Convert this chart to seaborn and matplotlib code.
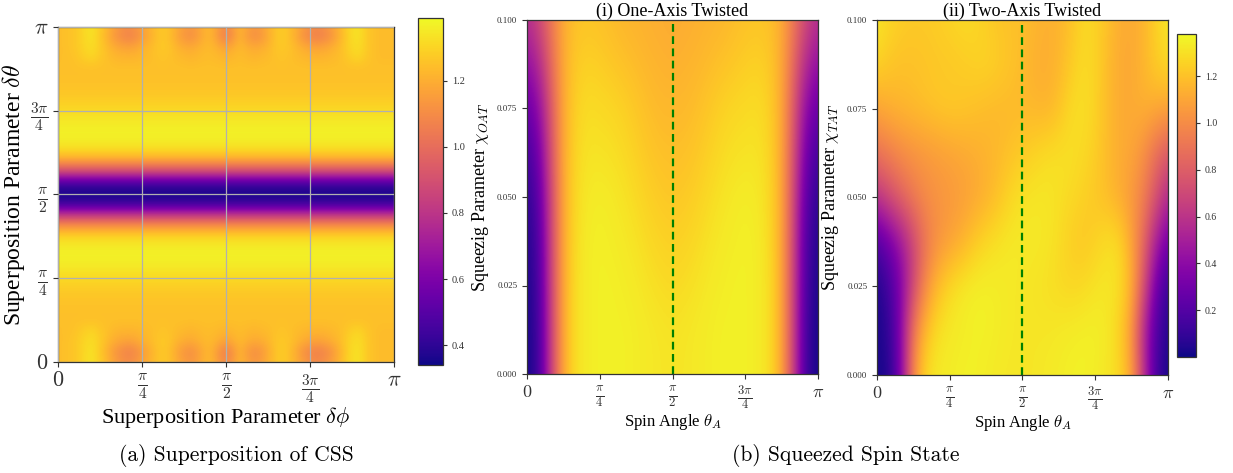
import numpy as np
import matplotlib
matplotlib.use("Agg")
import matplotlib.pyplot as plt
from matplotlib.colors import Normalize
import seaborn as sns

# ---------------- data ----------------
# Panel (a): superposition of CSS; rows = delta theta (k*pi/32), cols = delta phi (j*pi/48)
css_theta_profile = [1.24, 1.24, 1.24, 1.24, 1.25, 1.25, 1.26, 1.28, 1.31, 1.35, 1.37, 1.36, 1.30,
                     1.12, 0.82, 0.45, 0.34, 0.45, 0.82, 1.12, 1.30, 1.36, 1.37, 1.35, 1.31, 1.28,
                     1.26, 1.25, 1.25, 1.24, 1.24, 1.24, 1.24]
css_edge_row0 = [1.24, 1.25, 1.26, 1.28, 1.32, 1.33, 1.28, 1.23, 1.17, 1.13, 1.11, 1.13, 1.17, 1.21, 1.25,
                 1.27, 1.25, 1.20, 1.16, 1.14, 1.17, 1.22, 1.22, 1.15, 1.10, 1.15, 1.22, 1.18, 1.14, 1.16,
                 1.21, 1.25, 1.28, 1.25, 1.21, 1.16, 1.12, 1.10, 1.12, 1.16, 1.21, 1.27, 1.32, 1.33, 1.28,
                 1.25, 1.24, 1.24, 1.24]
css_edge_row1 = [1.24, 1.25, 1.26, 1.28, 1.32, 1.33, 1.27, 1.21, 1.14, 1.10, 1.07, 1.09, 1.14, 1.19, 1.24,
                 1.27, 1.24, 1.18, 1.13, 1.11, 1.15, 1.21, 1.21, 1.12, 1.06, 1.12, 1.21, 1.15, 1.11, 1.13,
                 1.19, 1.25, 1.28, 1.25, 1.19, 1.12, 1.08, 1.06, 1.08, 1.12, 1.19, 1.26, 1.32, 1.33, 1.28,
                 1.25, 1.24, 1.24, 1.24]
css_edge_row2 = [1.24, 1.25, 1.26, 1.28, 1.31, 1.32, 1.28, 1.24, 1.20, 1.18, 1.17, 1.18, 1.21, 1.23, 1.26,
                 1.27, 1.26, 1.22, 1.20, 1.19, 1.21, 1.23, 1.23, 1.20, 1.17, 1.20, 1.23, 1.21, 1.19, 1.20,
                 1.22, 1.26, 1.27, 1.26, 1.23, 1.20, 1.18, 1.17, 1.18, 1.20, 1.23, 1.27, 1.31, 1.32, 1.28,
                 1.25, 1.24, 1.24, 1.24]
css_edge_row3 = [1.24, 1.25, 1.25, 1.27, 1.29, 1.30, 1.27, 1.25, 1.23, 1.22, 1.22, 1.22, 1.23, 1.24, 1.25,
                 1.26, 1.25, 1.24, 1.23, 1.22, 1.23, 1.24, 1.24, 1.23, 1.22, 1.23, 1.24, 1.23, 1.22, 1.23,
                 1.24, 1.25, 1.26, 1.25, 1.24, 1.23, 1.22, 1.22, 1.22, 1.23, 1.24, 1.26, 1.29, 1.30, 1.27,
                 1.25, 1.24, 1.24, 1.24]
css_range = (0.34, 1.39)
css_cbar_ticks = [0.4, 0.6, 0.8, 1.0, 1.2]

# Panel (b)(i): one-axis twisted; rows = chi (0 .. 0.1 step 0.0125), cols = theta_A (j*pi/24)
oat_rows = [
    [0.02, 0.12, 0.65, 1.12, 1.30, 1.34, 1.35, 1.35, 1.35, 1.34, 1.33, 1.32, 1.32, 1.32, 1.33, 1.34, 1.35, 1.35, 1.35, 1.34, 1.30, 1.12, 0.65, 0.12, 0.02],
    [0.02, 0.13, 0.66, 1.12, 1.30, 1.34, 1.35, 1.35, 1.35, 1.34, 1.33, 1.32, 1.31, 1.32, 1.33, 1.34, 1.35, 1.35, 1.35, 1.34, 1.30, 1.12, 0.66, 0.13, 0.02],
    [0.03, 0.15, 0.67, 1.12, 1.30, 1.34, 1.35, 1.35, 1.34, 1.33, 1.31, 1.29, 1.28, 1.29, 1.31, 1.33, 1.34, 1.35, 1.35, 1.34, 1.30, 1.12, 0.67, 0.15, 0.03],
    [0.05, 0.17, 0.68, 1.12, 1.29, 1.34, 1.35, 1.34, 1.33, 1.31, 1.28, 1.26, 1.25, 1.26, 1.28, 1.31, 1.33, 1.34, 1.35, 1.34, 1.29, 1.12, 0.68, 0.17, 0.05],
    [0.08, 0.22, 0.70, 1.12, 1.28, 1.33, 1.34, 1.33, 1.31, 1.28, 1.25, 1.23, 1.22, 1.23, 1.25, 1.28, 1.31, 1.33, 1.34, 1.33, 1.28, 1.12, 0.70, 0.22, 0.08],
    [0.15, 0.30, 0.74, 1.12, 1.27, 1.31, 1.31, 1.30, 1.28, 1.25, 1.22, 1.20, 1.19, 1.20, 1.22, 1.25, 1.28, 1.30, 1.31, 1.31, 1.27, 1.12, 0.74, 0.30, 0.15],
    [0.27, 0.40, 0.78, 1.12, 1.25, 1.29, 1.28, 1.27, 1.25, 1.22, 1.19, 1.17, 1.17, 1.17, 1.19, 1.22, 1.25, 1.27, 1.28, 1.29, 1.25, 1.12, 0.78, 0.40, 0.27],
    [0.42, 0.55, 0.85, 1.12, 1.23, 1.25, 1.24, 1.22, 1.20, 1.18, 1.16, 1.15, 1.14, 1.15, 1.16, 1.18, 1.20, 1.22, 1.24, 1.25, 1.23, 1.12, 0.85, 0.55, 0.42],
    [0.58, 0.70, 0.92, 1.12, 1.20, 1.21, 1.20, 1.18, 1.16, 1.15, 1.14, 1.13, 1.12, 1.13, 1.14, 1.15, 1.16, 1.18, 1.20, 1.21, 1.20, 1.12, 0.92, 0.70, 0.58],
]

# Panel (b)(ii): two-axis twisted; same grid
tat_rows = [
    [0.02, 0.04, 0.35, 1.00, 1.28, 1.33, 1.34, 1.35, 1.35, 1.34, 1.33, 1.32, 1.32, 1.32, 1.33, 1.34, 1.35, 1.35, 1.34, 1.32, 1.28, 1.10, 0.60, 0.15, 0.02],
    [0.03, 0.08, 0.38, 0.92, 1.18, 1.30, 1.33, 1.34, 1.35, 1.35, 1.34, 1.33, 1.32, 1.32, 1.32, 1.33, 1.34, 1.35, 1.35, 1.33, 1.25, 1.05, 0.55, 0.18, 0.05],
    [0.03, 0.14, 0.36, 0.70, 1.00, 1.18, 1.28, 1.33, 1.35, 1.35, 1.34, 1.33, 1.32, 1.31, 1.30, 1.28, 1.27, 1.28, 1.31, 1.32, 1.30, 1.15, 0.75, 0.30, 0.10],
    [0.18, 0.30, 0.46, 0.68, 0.90, 1.02, 1.08, 1.14, 1.22, 1.28, 1.31, 1.33, 1.33, 1.33, 1.32, 1.29, 1.24, 1.22, 1.25, 1.30, 1.28, 1.10, 0.85, 0.50, 0.30],
    [0.60, 0.72, 0.83, 0.93, 1.00, 1.03, 1.05, 1.07, 1.10, 1.14, 1.20, 1.27, 1.31, 1.32, 1.32, 1.30, 1.28, 1.25, 1.22, 1.18, 1.12, 1.05, 0.95, 0.75, 0.55],
    [0.90, 0.95, 1.00, 1.03, 1.05, 1.07, 1.09, 1.11, 1.13, 1.15, 1.17, 1.20, 1.23, 1.26, 1.29, 1.30, 1.30, 1.28, 1.24, 1.18, 1.13, 1.10, 1.02, 0.88, 0.78],
    [1.10, 1.14, 1.16, 1.18, 1.20, 1.22, 1.23, 1.22, 1.20, 1.18, 1.17, 1.17, 1.17, 1.16, 1.15, 1.20, 1.28, 1.30, 1.26, 1.18, 1.12, 1.12, 1.14, 1.12, 1.10],
    [1.26, 1.22, 1.20, 1.20, 1.21, 1.22, 1.22, 1.23, 1.25, 1.26, 1.24, 1.21, 1.18, 1.14, 1.13, 1.16, 1.23, 1.28, 1.26, 1.18, 1.12, 1.11, 1.16, 1.24, 1.28],
    [1.32, 1.27, 1.24, 1.23, 1.23, 1.24, 1.26, 1.28, 1.27, 1.24, 1.21, 1.20, 1.19, 1.16, 1.14, 1.15, 1.20, 1.27, 1.26, 1.20, 1.13, 1.12, 1.15, 1.25, 1.32],
]
chi_max = 0.1
ss_range = (0.0, 1.38)
ss_cbar_ticks = [0.2, 0.4, 0.6, 0.8, 1.0, 1.2]

pi_tick_values = [0, np.pi / 4, np.pi / 2, 3 * np.pi / 4, np.pi]
pi_tick_labels = [r"$0$", r"$\frac{\pi}{4}$", r"$\frac{\pi}{2}$", r"$\frac{3\pi}{4}$", r"$\pi$"]
chi_tick_values = [0.0, 0.025, 0.05, 0.075, 0.1]
chi_tick_labels = ["0.000", "0.025", "0.050", "0.075", "0.100"]

# ---------------- build tables ----------------
edge_rows = [css_edge_row0, css_edge_row1, css_edge_row2, css_edge_row3]
n_phi = len(css_edge_row0)
n_theta = len(css_theta_profile)
css_grid = np.array([[v] * n_phi for v in css_theta_profile], dtype=float)
for k, row in enumerate(edge_rows):
    css_grid[k] = row
    css_grid[n_theta - 1 - k] = row
oat_grid = np.array(oat_rows, dtype=float)
tat_grid = np.array(tat_rows, dtype=float)

# ---------------- style ----------------
sns.set_theme(style="ticks")
plt.rcParams.update({
    "font.family": ["Liberation Serif", "DejaVu Serif"],
    "mathtext.fontset": "cm",
    "axes.edgecolor": "#333333",
    "axes.linewidth": 0.9,
    "xtick.color": "#333333",
    "ytick.color": "#333333",
    "xtick.major.size": 3.5,
    "ytick.major.size": 3.5,
    "xtick.major.width": 0.8,
    "ytick.major.width": 0.8,
    "text.color": "black",
    "axes.labelcolor": "black",
})
cmap = sns.color_palette("plasma", as_cmap=True)

W, H = 1233, 473
fig = plt.figure(figsize=(W / 100, H / 100), dpi=100)


def px_axes(x0, y0, x1, y1):
    return fig.add_axes([x0 / W, 1 - y1 / H, (x1 - x0) / W, (y1 - y0) / H])


def draw_field(ax, grid, xmax, ymax, norm):
    ny, nx = grid.shape
    dx = xmax / (nx - 1)
    dy = ymax / (ny - 1)
    im = ax.imshow(grid, origin="lower", cmap=cmap, norm=norm, aspect="auto",
                   interpolation="bicubic",
                   extent=[-dx / 2, xmax + dx / 2, -dy / 2, ymax + dy / 2])
    ax.set_xlim(0, xmax)
    ax.set_ylim(0, ymax)
    return im


# ---------------- panel (a) ----------------
ax_a = px_axes(58, 27, 394, 362)
norm_a = Normalize(*css_range)
im_a = draw_field(ax_a, css_grid, np.pi, np.pi, norm_a)
ax_a.set_xticks(pi_tick_values)
ax_a.set_xticklabels(pi_tick_labels, fontsize=16)
ax_a.set_yticks(pi_tick_values)
ax_a.set_yticklabels(pi_tick_labels, fontsize=16)
ax_a.grid(True, color="#b0b0b0", linewidth=0.9)
ax_a.set_axisbelow(False)
ax_a.set_xlabel(r"Superposition Parameter $\delta\phi$", fontsize=16, labelpad=0)
ax_a.set_ylabel(r"Superposition Parameter $\delta\theta$", fontsize=17, labelpad=2)

cax_a = px_axes(418, 18, 443, 365)
cb_a = fig.colorbar(im_a, cax=cax_a)
cb_a.set_ticks(css_cbar_ticks)
cb_a.ax.tick_params(labelsize=7.5, length=3)
cb_a.outline.set_linewidth(0.9)

# ---------------- panel (b) ----------------
norm_b = Normalize(*ss_range)
ax_i = px_axes(527, 20, 818, 374)
draw_field(ax_i, oat_grid, np.pi, chi_max, norm_b)
ax_ii = px_axes(877, 20, 1168, 375)
im_ii = draw_field(ax_ii, tat_grid, np.pi, chi_max, norm_b)

for ax, title, ylab in [(ax_i, "(i) One-Axis Twisted", r"Squeezig Parameter $\chi_{OAT}$"),
                        (ax_ii, "(ii) Two-Axis Twisted", r"Squeezig Parameter $\chi_{TAT}$")]:
    ax.axvline(np.pi / 2, color="green", linestyle=(0, (3.5, 2.0)), linewidth=1.6)
    ax.set_xticks(pi_tick_values)
    ax.set_xticklabels(pi_tick_labels, fontsize=13)
    ax.set_yticks(chi_tick_values)
    ax.set_yticklabels(chi_tick_labels, fontsize=6.5)
    ax.set_title(title, fontsize=13, pad=2)
    ax.set_xlabel(r"Spin Angle $\theta_A$", fontsize=12, labelpad=0)
    ax.set_ylabel(ylab, fontsize=13, labelpad=4)

cax_b = px_axes(1177, 34, 1196, 357)
cb_b = fig.colorbar(im_ii, cax=cax_b)
cb_b.set_ticks(ss_cbar_ticks)
cb_b.ax.tick_params(labelsize=7, length=3)
cb_b.outline.set_linewidth(0.9)

# ---------------- captions ----------------
fig.text(236 / W, 1 - 455 / H, "(a) Superposition of CSS", family="cmr10",
         fontsize=15.5, ha="center", va="center")
fig.text(846 / W, 1 - 455 / H, "(b) Squeezed Spin State", family="cmr10",
         fontsize=15.5, ha="center", va="center")

fig.savefig("out.png", dpi=100, facecolor="white")
